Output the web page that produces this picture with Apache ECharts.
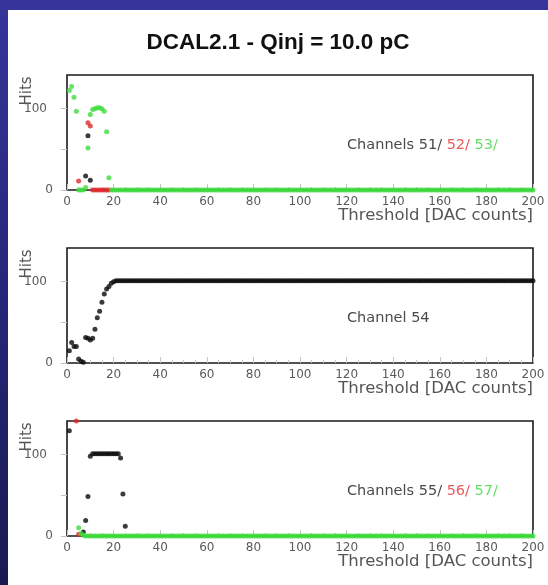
<!DOCTYPE html>
<html>
<head>
<meta charset="utf-8">
<script src="https://cdn.jsdelivr.net/npm/echarts/dist/echarts.min.js"></script>
<style>
  html, body { margin: 0; padding: 0; width: 548px; height: 585px; overflow: hidden;
    background: linear-gradient(to bottom, #35359b 0%, #26267a 50%, #1a1a52 100%); }
  #chart { position: absolute; left: 8px; top: 10px; width: 540px; height: 575px; background: #ffffff; }
</style>
</head>
<body>
<div id="chart"></div>
<script>
// ---- Data (Hits vs Threshold [DAC counts]) ----
const titleText = 'DCAL2.1 - Qinj = 10.0 pC';
const xTicks = [0, 20, 40, 60, 80, 100, 120, 140, 160, 180, 200];
const yLabelValues = [0, 100];
const yTickValues = [0, 50, 100];

// Panel 1: channels 51 (black), 52 (red), 53 (green)
const ch51 = [[8, 17], [9, 66], [10, 12]];
const ch52 = [[5, 11], [9, 82], [10, 78], [11, 0], [12, 0], [13, 0], [14, 0], [15, 0], [16, 0], [17, 0], [18, 0]];
// ch53: thresholds 1..200
const ch53 = [
  121,126,113,96,0,0,0,3,51,92,98,99,100,100,99,96,71,15,0,0,
  0,0,0,0,0,0,0,0,0,0,0,0,0,0,0,0,0,0,0,0,
  0,0,0,0,0,0,0,0,0,0,0,0,0,0,0,0,0,0,0,0,
  0,0,0,0,0,0,0,0,0,0,0,0,0,0,0,0,0,0,0,0,
  0,0,0,0,0,0,0,0,0,0,0,0,0,0,0,0,0,0,0,0,
  0,0,0,0,0,0,0,0,0,0,0,0,0,0,0,0,0,0,0,0,
  0,0,0,0,0,0,0,0,0,0,0,0,0,0,0,0,0,0,0,0,
  0,0,0,0,0,0,0,0,0,0,0,0,0,0,0,0,0,0,0,0,
  0,0,0,0,0,0,0,0,0,0,0,0,0,0,0,0,0,0,0,0,
  0,0,0,0,0,0,0,0,0,0,0,0,0,0,0,0,0,0,0,0
];

// Panel 2: channel 54, thresholds 1..200
const ch54 = [
  15,25,20,20,5,2,1,31,30,28,30,41,55,63,74,84,90,93,97,99,
  100,100,100,100,100,100,100,100,100,100,100,100,100,100,100,100,100,100,100,100,
  100,100,100,100,100,100,100,100,100,100,100,100,100,100,100,100,100,100,100,100,
  100,100,100,100,100,100,100,100,100,100,100,100,100,100,100,100,100,100,100,100,
  100,100,100,100,100,100,100,100,100,100,100,100,100,100,100,100,100,100,100,100,
  100,100,100,100,100,100,100,100,100,100,100,100,100,100,100,100,100,100,100,100,
  100,100,100,100,100,100,100,100,100,100,100,100,100,100,100,100,100,100,100,100,
  100,100,100,100,100,100,100,100,100,100,100,100,100,100,100,100,100,100,100,100,
  100,100,100,100,100,100,100,100,100,100,100,100,100,100,100,100,100,100,100,100,
  100,100,100,100,100,100,100,100,100,100,100,100,100,100,100,100,100,100,100,100
];

// Panel 3: channels 55 (black), 56 (red), 57 (green)
const ch55 = [[1, 128], [7, 5], [8, 19], [9, 48], [10, 97], [11, 100], [12, 100], [13, 100], [14, 100],
  [15, 100], [16, 100], [17, 100], [18, 100], [19, 100], [20, 100], [21, 100], [22, 100], [23, 95], [24, 51], [25, 12]];
const ch56 = [[4, 140], [5, 2]];
// ch57: thresholds 1..200 (null = not shown)
const ch57 = [
  null,null,null,null,10,3,1,0,0,0,0,0,0,0,0,0,0,0,0,0,
  0,0,0,0,0,0,0,0,0,0,0,0,0,0,0,0,0,0,0,0,
  0,0,0,0,0,0,0,0,0,0,0,0,0,0,0,0,0,0,0,0,
  0,0,0,0,0,0,0,0,0,0,0,0,0,0,0,0,0,0,0,0,
  0,0,0,0,0,0,0,0,0,0,0,0,0,0,0,0,0,0,0,0,
  0,0,0,0,0,0,0,0,0,0,0,0,0,0,0,0,0,0,0,0,
  0,0,0,0,0,0,0,0,0,0,0,0,0,0,0,0,0,0,0,0,
  0,0,0,0,0,0,0,0,0,0,0,0,0,0,0,0,0,0,0,0,
  0,0,0,0,0,0,0,0,0,0,0,0,0,0,0,0,0,0,0,0,
  0,0,0,0,0,0,0,0,0,0,0,0,0,0,0,0,0,0,0,0
];

const panelLabels = [
  [['k', 'Channels 51/ '], ['r', '52/ '], ['g', '53/']],
  [['k', 'Channel 54']],
  [['k', 'Channels 55/ '], ['r', '56/ '], ['g', '57/']]
];

// ---- Build ----
const BLACK = '#0a0a0a', RED = '#e02a2a', GREEN = '#3fdc3f';
const FONT = 'DejaVu Sans';
const fromThreshold = arr => arr.map((v, i) => [i + 1, v]).filter(p => p[1] !== null);

const gridTops = [65, 238, 411];
const grids = gridTops.map(t => ({
  left: 59, top: t, width: 466, height: 115,
  show: true, borderColor: '#1a1a1a', borderWidth: 1.6, backgroundColor: '#ffffff'
}));

const xAxes = gridTops.map((t, i) => ({
  type: 'value', gridIndex: i, min: 0, max: 200, interval: 20,
  axisLine: { show: false },
  axisTick: { show: true, inside: true, length: 6, lineStyle: { color: '#c4c4c4', width: 1 } },
  minorTick: { show: true, splitNumber: 4, length: 3, lineStyle: { color: '#c4c4c4', width: 1 } },
  splitLine: { show: false },
  axisLabel: { color: '#5a5a5a', fontFamily: FONT, fontSize: 12, margin: 6,
    customValues: xTicks }
}));

const yAxes = gridTops.map((t, i) => ({
  type: 'value', gridIndex: i, min: 0, max: 140, interval: 50,
  axisLine: { show: false },
  axisTick: { show: true, inside: false, length: 6, lineStyle: { color: '#c4c4c4', width: 1 },
    customValues: yTickValues },
  splitLine: { show: false },
  axisLabel: {
    customValues: yLabelValues,
    fontFamily: FONT, fontSize: 12, color: '#5a5a5a', margin: 14,
    formatter: v => v === 100 ? '{h|100}' : String(v),
    rich: { h: { fontFamily: FONT, fontSize: 12, color: '#5a5a5a', padding: [3, 6, 0, 0] } }
  }
}));

function sc(data, color, gi, z) {
  return { type: 'scatter', xAxisIndex: gi, yAxisIndex: gi, data: data, symbol: 'circle',
    symbolSize: 5, itemStyle: { color: color }, z: z, silent: true, animation: false, clip: false };
}

const series = [
  sc(ch51, BLACK, 0, 2), sc(ch52, RED, 0, 3), sc(fromThreshold(ch53), GREEN, 0, 4),
  sc(fromThreshold(ch54), BLACK, 1, 2),
  sc(ch55, BLACK, 2, 2), sc(ch56, RED, 2, 3), sc(fromThreshold(ch57), GREEN, 2, 4)
];

const rich = {
  k: { fontFamily: FONT, fontSize: 14.5, fill: '#4a4a4a', color: '#4a4a4a' },
  r: { fontFamily: FONT, fontSize: 14.5, fill: '#e85a5a', color: '#e85a5a' },
  g: { fontFamily: FONT, fontSize: 14.5, fill: '#66dd66', color: '#66dd66' }
};

const graphics = [
  { type: 'text', left: 'center', top: 21, z: 10,
    style: { text: titleText, font: 'bold 22.5px "Liberation Sans", Arial, sans-serif', fill: '#111' } }
];
gridTops.forEach((t, i) => {
  graphics.push({ type: 'text', x: 339, y: t + 70, z: 10,
    style: { text: panelLabels[i].map(p => '{' + p[0] + '|' + p[1] + '}').join(''), rich: rich,
      verticalAlign: 'middle', textVerticalAlign: 'middle' } });
  graphics.push({ type: 'text', x: 525, y: t + 141, z: 10,
    style: { text: 'Threshold [DAC counts]', font: '16.5px "DejaVu Sans"', fill: '#555',
      align: 'right', verticalAlign: 'middle', textAlign: 'right', textVerticalAlign: 'middle' } });
  graphics.push({ type: 'group', x: 19, y: t + 16, rotation: Math.PI / 2, z: 10,
    children: [{ type: 'text', x: 0, y: 0,
      style: { text: 'Hits', font: '15px "DejaVu Sans"', fill: '#555',
        align: 'center', verticalAlign: 'middle', textAlign: 'center', textVerticalAlign: 'middle' } }] });
});

const chart = echarts.init(document.getElementById('chart'), null, { renderer: 'canvas' });
chart.setOption({
  animation: false,
  backgroundColor: '#ffffff',
  grid: grids,
  xAxis: xAxes,
  yAxis: yAxes,
  series: series,
  graphic: graphics
});
</script>
</body>
</html>
